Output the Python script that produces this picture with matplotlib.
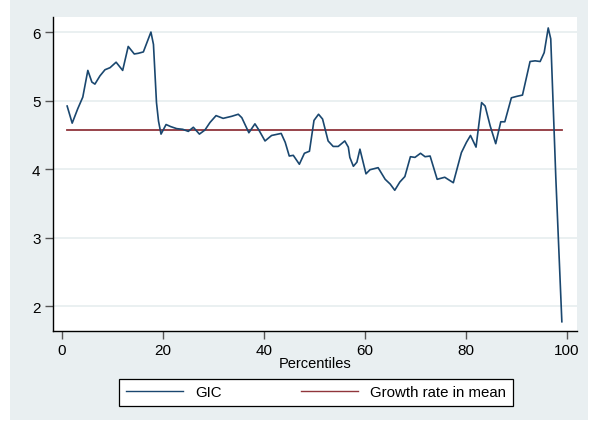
import matplotlib
matplotlib.use("Agg")
import matplotlib.pyplot as plt
from matplotlib.patches import Rectangle

# growth incidence curve, read at these percentiles
pctile = [1.0, 2.0, 3.1, 4.1, 5.1, 5.9, 6.5, 7.5, 8.5, 9.5, 10.7, 12.0, 13.1, 14.3,
          15.1, 16.1, 17.6, 18.1, 18.7, 19.1, 19.6, 20.6, 21.5, 22.7, 23.9, 25.0,
          26.0, 27.2, 28.3, 29.3, 30.5, 31.9, 33.6, 34.9, 35.6, 37.0, 38.2, 38.9,
          40.2, 41.5, 43.4, 44.2, 45.0, 45.8, 47.0, 48.0, 49.0, 49.9, 50.8, 51.6,
          52.7, 53.7, 54.7, 56.0, 56.7, 57.0, 57.7, 58.4, 59.0, 60.2, 61.0, 62.6,
          64.0, 65.0, 65.9, 66.9, 67.9, 69.0, 69.9, 71.0, 71.9, 72.9, 74.3, 75.8,
          77.5, 79.1, 80.1, 80.9, 82.0, 83.1, 83.8, 84.8, 85.9, 86.9, 87.7, 89.0,
          90.0, 91.2, 92.7, 93.7, 94.7, 95.5, 96.3, 96.8, 97.8, 99.0]
gic = [4.92, 4.67, 4.88, 5.05, 5.44, 5.27, 5.24, 5.36, 5.45, 5.48, 5.56, 5.44, 5.79, 5.68,
       5.69, 5.71, 6.00, 5.82, 4.97, 4.70, 4.51, 4.65, 4.62, 4.59, 4.58, 4.55,
       4.61, 4.51, 4.57, 4.68, 4.78, 4.74, 4.77, 4.80, 4.75, 4.53, 4.66, 4.58,
       4.41, 4.49, 4.52, 4.39, 4.19, 4.20, 4.07, 4.23, 4.26, 4.71, 4.80, 4.73,
       4.41, 4.33, 4.33, 4.41, 4.32, 4.17, 4.04, 4.10, 4.29, 3.93, 3.99, 4.02,
       3.85, 3.78, 3.69, 3.81, 3.89, 4.18, 4.17, 4.23, 4.18, 4.19, 3.85, 3.88,
       3.80, 4.24, 4.39, 4.49, 4.32, 4.97, 4.92, 4.63, 4.37, 4.69, 4.69, 5.04,
       5.06, 5.08, 5.57, 5.58, 5.57, 5.70, 6.06, 5.90, 3.88, 1.77]

mean_growth = 4.57
mean_span = [1, 99]

x_ticks = [0, 20, 40, 60, 80, 100]
y_ticks = [2, 3, 4, 5, 6]

navy = "#1a476f"
maroon = "#90353b"
bg = "#e9eff1"

plt.rcParams["font.family"] = ["Liberation Sans", "DejaVu Sans"]

fig = plt.figure(figsize=(5.94, 4.27), dpi=100, facecolor="white")
# graph region band behind everything
fig.patches.append(Rectangle((10 / 594, 6 / 427), 578 / 594, 421 / 427,
                             transform=fig.transFigure, facecolor=bg,
                             edgecolor="none", zorder=-10))

ax = fig.add_axes([53 / 594, 95 / 427, 524 / 594, 314 / 427])
ax.set_facecolor("white")

ax.plot(pctile, gic, color=navy, lw=1.2, label="GIC", zorder=3)
ax.plot(mean_span, [mean_growth, mean_growth], color=maroon, lw=1.3,
        label="Growth rate in mean", zorder=2)

ax.set_xlim(-1.8, 102)
ax.set_ylim(1.635, 6.22)
ax.set_xticks(x_ticks)
ax.set_yticks(y_ticks)
ax.grid(axis="y", color="#e6eeef", lw=1.2, zorder=0)
ax.grid(axis="x", visible=False)

for side in ["top", "right"]:
    ax.spines[side].set_visible(False)
for side in ["left", "bottom"]:
    ax.spines[side].set_color("black")
    ax.spines[side].set_linewidth(1.0)

ax.tick_params(axis="both", direction="out", length=6, width=1.0,
               color="#555555", labelsize=11, pad=3)
ax.set_xlabel("Percentiles", fontsize=10.5, labelpad=-1)

leg = fig.legend(loc="center", bbox_to_anchor=(0.532, 0.079), ncol=2,
                 frameon=True, fancybox=False, fontsize=10.8, framealpha=1,
                 handlelength=3.8, columnspacing=5.3, handletextpad=0.8,
                 borderpad=0.45, borderaxespad=0)
leg.get_frame().set_edgecolor("black")
leg.get_frame().set_linewidth(0.9)
leg.get_frame().set_facecolor("white")
for line in leg.get_lines():
    line.set_linewidth(1.0)

fig.savefig("out.png", dpi=100, facecolor=fig.get_facecolor())
